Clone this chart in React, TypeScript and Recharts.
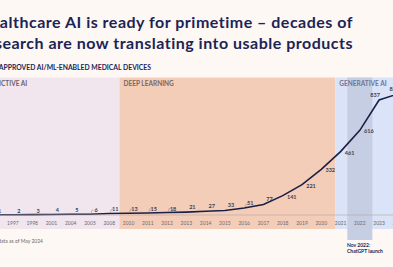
import { LineChart, Line, XAxis, YAxis, ReferenceArea, LabelList } from 'recharts';

const years = [
  '1995', '1997', '1998', '2001', '2004', '2005', '2008', '2010', '2011', '2012', '2013',
  '2014', '2015', '2016', '2017', '2018', '2019', '2020', '2021', '2022', '2023', '2024',
];
const devices = [1, 2, 3, 4, 5, 6, 11, 13, 15, 18, 21, 27, 33, 51, 77, 141, 221, 332, 461, 616, 837, 882];
// years whose label gets a little leader mark
const leaderYears = ['2005', '2008', '2010', '2011', '2012', '2016'];

const eras = [
  { name: 'PREDICTIVE AI', from: -0.8, to: 6.53, fill: '#f2e6ee', text: '#6d6069' },
  { name: 'DEEP LEARNING', from: 6.53, to: 17.73, fill: '#f4cdb9', text: '#7b6760' },
  { name: 'GENERATIVE AI', from: 17.73, to: 22, fill: '#dae3f8', text: '#6c7699' },
];

const data = years.map((y, i) => ({ i, year: y, value: devices[i] }));

const NAVY = '#1c2454';

function ValueLabel(props: any) {
  const { x, y, value, index } = props;
  let dx = 6;
  let dy = -4;
  if (value >= 800) {
    dx = -4;
    dy = -5;
  } else if (value >= 100) {
    dx = 9;
    dy = 1;
  } else if (value >= 20) {
    dx = 6;
    dy = -5;
  }
  const lead = leaderYears.includes(years[index]);
  return (
    <g>
      {lead && (
        <path
          d={`M${x + 1},${y - 1} L${x + 2},${y - 4} L${x + 3.5},${y - 4}`}
          stroke="#8a8080"
          strokeWidth={0.5}
          fill="none"
        />
      )}
      <text
        x={x + dx}
        y={y + dy}
        textAnchor="middle"
        dominantBaseline="central"
        fontSize={5.5}
        fontWeight={700}
        fill="#3a3d52"
      >
        {value}
      </text>
    </g>
  );
}

export default function App() {
  return (
    <div
      style={{
        position: 'relative',
        width: 393,
        height: 267,
        overflow: 'hidden',
        background: '#fdf8f4',
        fontFamily: 'Lato, sans-serif',
      }}
    >
      <style>{`body{margin:0}`}</style>

      {/* title, cropped on the left like the slide */}
      <div
        style={{
          position: 'absolute',
          right: 40,
          top: 11,
          textAlign: 'right',
          whiteSpace: 'nowrap',
          fontSize: 16,
          lineHeight: '21px',
          letterSpacing: 0.5,
          fontWeight: 700,
          color: NAVY,
        }}
      >
        <div>Healthcare AI is ready for primetime – decades of</div>
        <div>research are now translating into usable products</div>
      </div>

      <div
        style={{
          position: 'absolute',
          right: 393 - 151,
          top: 63,
          whiteSpace: 'nowrap',
          fontSize: 6.8,
          lineHeight: '8px',
          fontWeight: 700,
          color: NAVY,
        }}
      >
        # OF FDA-APPROVED AI/ML-ENABLED MEDICAL DEVICES
      </div>

      <div style={{ position: 'absolute', left: -16, top: 0 }}>
        <LineChart
          width={440}
          height={267}
          data={data}
          margin={{ top: 77.6, right: 16, bottom: 22, left: 0 }}
        >
          {eras.map((e) => (
            <ReferenceArea
              key={e.name}
              x1={e.from}
              x2={e.to}
              y1={-102}
              y2={1000}
              ifOverflow="visible"
              fill={e.fill}
              fillOpacity={1}
              stroke="none"
              label={{
                value: e.name,
                position: 'insideTopLeft',
                offset: 4,
                fontSize: 6.5,
                fontWeight: 700,
                fill: e.text,
              }}
            />
          ))}
          <ReferenceArea
            x1={18.35}
            x2={19.65}
            y1={-182}
            y2={1000}
            ifOverflow="visible"
            fill="#c6cee4"
            fillOpacity={1}
            stroke="none"
          />
          <XAxis
            type="number"
            dataKey="i"
            domain={[-0.5, 21.5]}
            ticks={data.map((d) => d.i)}
            tickFormatter={(v) => years[v]}
            interval={0}
            tickLine={false}
            tickSize={4}
            tickMargin={2}
            axisLine={{ stroke: '#b8aeab', strokeWidth: 0.7 }}
            tick={{ fontSize: 5, fill: '#6e6a6e' }}
          />
          <YAxis hide domain={[0, 1000]} />
          <Line
            type="linear"
            dataKey="value"
            stroke="#1b1f45"
            strokeWidth={1.6}
            dot={false}
            isAnimationActive={false}
          >
            <LabelList dataKey="value" content={ValueLabel} />
          </Line>
        </LineChart>
      </div>

      <div
        style={{
          position: 'absolute',
          right: 393 - 43,
          top: 238,
          whiteSpace: 'nowrap',
          fontSize: 5,
          lineHeight: '6px',
          color: '#6a6a6a',
        }}
      >
        Chart data as of May 2024
      </div>

      <div
        style={{
          position: 'absolute',
          left: 347,
          top: 242,
          whiteSpace: 'nowrap',
          fontSize: 5,
          lineHeight: '6px',
          fontWeight: 700,
          color: NAVY,
        }}
      >
        <div>Nov 2022:</div>
        <div>ChatGPT launch</div>
      </div>
    </div>
  );
}
